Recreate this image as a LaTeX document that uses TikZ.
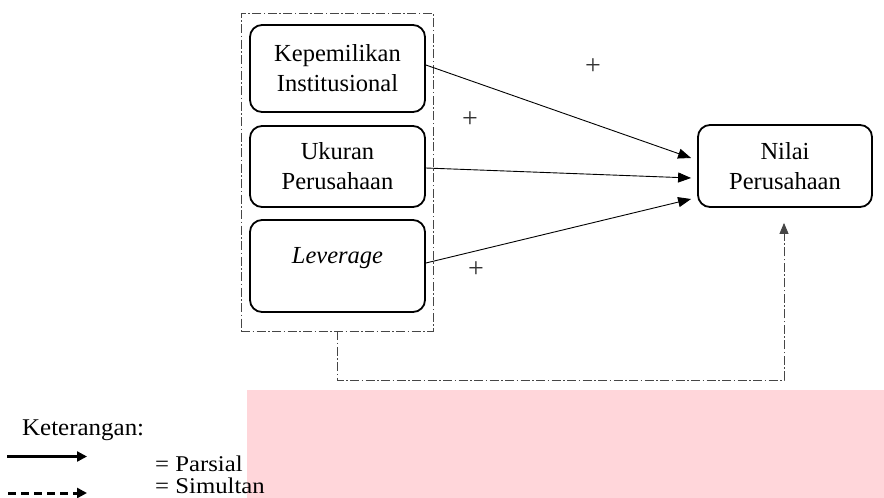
\documentclass[tikz,border=0pt]{standalone}
\usepackage{fontspec}
\setmainfont{Liberation Serif}
\usetikzlibrary{arrows.meta,calc}
\definecolor{pinkbg}{RGB}{255,214,218}
\definecolor{dashgray}{RGB}{70,70,70}
\tikzset{
  boxnode/.style={draw, line width=1.8pt, rounded corners=12pt, minimum width=175pt, align=center, font=\fontsize{24.5}{30}\selectfont, inner sep=0pt},
  conn/.style={line width=0.9pt, -{Triangle[length=13pt,width=10pt]}},
  dashdot/.style={draw=dashgray, line width=0.9pt, dash pattern=on 9pt off 2.5pt on 1.5pt off 2.5pt},
  plusnode/.style={font=\fontsize{28}{28}\selectfont, text=black!80, inner sep=0pt},
  legtext/.style={font=\fontsize{24}{24}\selectfont, anchor=base west, inner sep=0pt, xscale=1.04},
  legsmall/.style={font=\fontsize{22.5}{22.5}\selectfont, anchor=base west, inner sep=0pt, xscale=1.1}
}
\begin{document}
\begin{tikzpicture}[x=1pt,y=-1pt]
\useasboundingbox (0,0) rectangle (884,498);
% pink overlay
\fill[pinkbg] (246.5,390) rectangle (884,498);
% outer dash-dot group
\node (outer) [dashdot, minimum width=192pt, minimum height=318pt, inner sep=0pt] at (337,172) {};
% boxes
\node (box1) [boxnode, minimum height=87pt] at (337.5,68.5) {Kepemilikan\\Institusional};
\node (box2) [boxnode, minimum height=81pt] at (337.5,166.5) {Ukuran\\Perusahaan};
\node (box3) [boxnode, minimum height=92pt] at (337.5,266) {\raisebox{8pt}[\height][\depth]{\itshape Leverage}};
\node (nilai) [boxnode, minimum width=174pt, minimum height=82pt] at (785,166) {Nilai\\Perusahaan};
% arrow tips
\coordinate (t1) at ($(nilai.west)+(-6,-8)$);
\coordinate (t2) at ($(nilai.west)+(-6,12)$);
\coordinate (t3) at ($(nilai.west)+(-6,33)$);
\coordinate (t4) at ($(nilai.south)+(-1,15)$);
\draw[conn] ($(box1.east)+(0,-3.5)$) -- (t1);
\draw[conn] ($(box2.east)+(0,1.5)$) -- (t2);
\draw[conn] ($(box3.east)+(0,-3)$) -- (t3);
\draw[dashdot, -{Triangle[length=11pt,width=9pt]}] (outer.south) -- ++(0,49) -| (t4);
% plus signs
\node (p1) [plusnode] at (593,67) {+};
\node (p2) [plusnode] at (470,120) {+};
\node (p3) [plusnode] at (476,270) {+};
% legend
\node (ket) [legtext] at (22,435) {Keterangan:};
\coordinate (la) at (7,456.5);
\coordinate (lb) at (87,456.5);
\coordinate (lc) at (8,493);
\coordinate (ld) at (87,493);
\draw[line width=2.4pt, -{Triangle[length=10pt,width=10pt]}] (la) -- (lb);
\draw[line width=3pt, dash pattern=on 8pt off 5pt, -{Triangle[length=10pt,width=10pt]}] (lc) -- (ld);
\node (parsial) [legsmall] at (155,471) {= Parsial};
\node (simultan) [legsmall] at (155,493.5) {= Simultan};
\end{tikzpicture}
\end{document}
